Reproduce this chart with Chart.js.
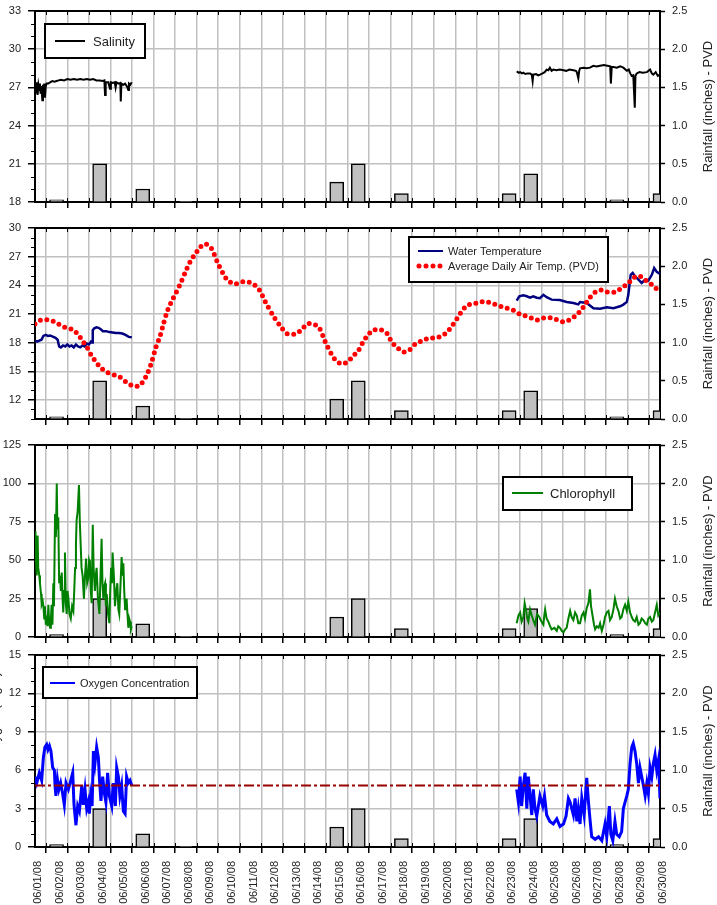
<!DOCTYPE html>
<html>
<head>
<meta charset="utf-8">
<script src="https://cdn.jsdelivr.net/npm/chart.js@4.4.0/dist/chart.umd.min.js"></script>
<style>
  html, body { margin: 0; padding: 0; background: #fff; }
  body { width: 717px; height: 905px; position: relative; overflow: hidden; }
  canvas { position: absolute; left: 0; }
</style>
</head>
<body>
<canvas id="salinityChart"></canvas>
<canvas id="tempChart"></canvas>
<canvas id="chlChart"></canvas>
<canvas id="oxyChart"></canvas>
<script>
// ---- data (x = days after 06/01/08 00:00) ----
const dateLabels = ['06/01/08','06/02/08','06/03/08','06/04/08','06/05/08','06/06/08','06/07/08','06/08/08','06/09/08','06/10/08',
  '06/11/08','06/12/08','06/13/08','06/14/08','06/15/08','06/16/08','06/17/08','06/18/08','06/19/08','06/20/08',
  '06/21/08','06/22/08','06/23/08','06/24/08','06/25/08','06/26/08','06/27/08','06/28/08','06/29/08','06/30/08'];

// daily rainfall at PVD (inches), one per date label
const rainfall = [0, 0.03, 0, 0.5, 0, 0.17, 0, 0.005, 0, 0, 0, 0, 0, 0, 0.26, 0.5, 0, 0.11, 0, 0,
  0, 0, 0.11, 0.37, 0, 0, 0, 0.03, 0, 0.11];
const rainTicks = [0, 0.5, 1, 1.5, 2, 2.5];

const salinityTicks = [18, 21, 24, 27, 30, 33];
const salinityEarly = [[0.00,26.7],[0.03,27.3],[0.06,26.6],[0.09,27.4],[0.12,26.4],[0.16,27.2],[0.20,26.8],[0.23,27.3],
  [0.26,26.5],[0.30,27.1],[0.34,26.0],[0.37,27.2],[0.40,26.9],[0.43,27.3],[0.46,26.2],[0.50,27.1],[0.54,27.3],[0.62,27.3],
  [0.70,27.4],[0.80,27.5],[0.90,27.45],[1.00,27.5],[1.10,27.55],[1.20,27.6],[1.35,27.55],[1.50,27.65],[1.65,27.6],
  [1.80,27.65],[1.95,27.6],[2.10,27.65],[2.25,27.6],[2.40,27.65],[2.55,27.6],[2.70,27.65],[2.85,27.55],[3.00,27.55],
  [3.15,27.5],[3.22,27.55],[3.25,26.4],[3.28,27.4],[3.40,27.4],[3.48,26.9],[3.52,27.4],[3.60,27.35],[3.70,27.4],
  [3.74,27.0],[3.78,27.4],[3.88,27.3],[3.96,27.35],[3.98,25.9],[4.01,27.3],[4.10,27.2],[4.18,27.3],[4.26,27.1],
  [4.33,26.8],[4.36,27.3],[4.42,27.2],[4.49,27.4]];
const salinityLate = [[22.35,28.25],[22.45,28.15],[22.51,28.2],[22.60,28.1],[22.66,28.15],[22.75,28.05],[22.85,28.1],
  [22.97,28.1],[23.05,28.0],[23.09,27.5],[23.12,28.0],[23.25,28.05],[23.35,27.95],[23.43,28.0],[23.55,28.1],[23.65,28.2],
  [23.74,28.4],[23.82,28.35],[23.89,28.55],[23.97,28.3],[24.05,28.4],[24.20,28.35],[24.35,28.4],[24.52,28.35],[24.65,28.3],
  [24.80,28.4],[24.98,28.35],[25.10,28.3],[25.14,28.2],[25.21,27.7],[25.25,28.3],[25.29,28.5],[25.45,28.55],[25.60,28.5],
  [25.75,28.55],[25.91,28.7],[26.05,28.65],[26.22,28.7],[26.40,28.75],[26.55,28.7],[26.69,28.65],[26.72,27.3],[26.76,28.6],
  [26.84,28.6],[27.00,28.55],[27.15,28.65],[27.30,28.55],[27.46,28.3],[27.55,28.4],[27.62,28.1],[27.69,27.9],[27.76,27.95],
  [27.83,25.4],[27.86,27.9],[27.92,28.1],[28.05,28.2],[28.20,28.15],[28.39,28.2],[28.54,28.4],[28.62,28.1],[28.69,28.0],
  [28.80,28.2],[28.90,27.9],[29.00,28.0]];

const tempTicks = [12, 15, 18, 21, 24, 27, 30];
const waterTempEarly = [[0.00,18.2],[0.10,18.1],[0.20,18.2],[0.30,18.3],[0.39,18.7],[0.50,18.8],[0.60,18.7],[0.70,18.75],
  [0.85,18.6],[0.95,18.5],[1.05,18.3],[1.12,17.6],[1.20,17.5],[1.30,17.7],[1.40,17.6],[1.50,17.8],[1.60,17.6],[1.70,17.7],
  [1.80,17.5],[1.90,17.8],[2.00,17.6],[2.10,17.5],[2.20,17.7],[2.30,17.6],[2.40,17.9],[2.50,17.8],[2.60,18.1],[2.65,18.0],
  [2.68,19.3],[2.75,19.5],[2.85,19.6],[2.95,19.55],[3.05,19.4],[3.15,19.2],[3.30,19.2],[3.45,19.1],[3.60,19.05],
  [3.75,19.0],[3.90,19.0],[4.05,18.95],[4.20,18.8],[4.35,18.6],[4.49,18.55]];
const waterTempLate = [[22.35,22.4],[22.47,22.85],[22.66,22.95],[22.82,22.85],[22.97,22.7],[23.12,22.85],[23.28,22.7],
  [23.43,22.65],[23.59,23.0],[23.74,22.75],[23.97,22.5],[24.35,22.45],[24.67,22.25],[24.98,22.15],[25.21,22.0],
  [25.29,22.25],[25.60,22.15],[25.91,21.6],[26.22,21.55],[26.53,21.7],[26.84,21.6],[27.15,21.8],[27.30,21.98],
  [27.46,22.26],[27.53,23.0],[27.64,25.1],[27.73,25.3],[27.84,24.95],[28.00,24.6],[28.15,24.25],[28.31,24.6],
  [28.46,24.5],[28.62,25.1],[28.73,25.8],[28.85,25.4],[29.00,25.2]];
const airTemp = [[0.00,19.95],[0.28,20.37],[0.59,20.37],[0.93,20.16],[1.24,19.75],[1.52,19.5],[1.78,19.33],[2.06,18.66],
  [2.24,18.07],[2.43,17.44],[2.63,16.6],[2.83,15.98],[3.06,15.35],[3.37,14.86],[3.63,14.65],[3.91,14.44],[4.22,13.89],
  [4.53,13.47],[4.84,13.47],[5.06,14.1],[5.21,14.72],[5.41,15.94],[5.60,17.44],[5.80,18.66],[5.96,19.95],[6.16,21.42],
  [6.42,22.68],[6.70,23.93],[6.98,25.4],[7.24,26.65],[7.44,27.28],[7.63,27.91],[7.89,28.33],[8.17,27.91],[8.46,26.44],
  [8.74,25.19],[8.93,24.56],[9.25,24.14],[9.57,24.35],[9.85,24.35],[10.13,24.14],[10.41,23.51],[10.69,22.26],
  [11.06,20.79],[11.45,19.54],[11.71,18.91],[12.08,18.91],[12.36,19.33],[12.64,19.95],[12.92,19.95],[13.19,19.54],
  [13.47,18.07],[13.75,16.82],[13.94,16.19],[14.22,15.77],[14.49,15.98],[14.77,16.6],[15.02,17.23],[15.24,18.14],
  [15.42,18.7],[15.67,19.26],[16.04,19.36],[16.35,18.91],[16.55,18.07],[16.83,17.44],[17.09,17.02],[17.37,17.23],
  [17.65,17.86],[18.02,18.25],[18.30,18.49],[18.58,18.49],[18.86,18.7],[19.13,19.12],[19.41,19.95],[19.60,20.58],
  [19.78,21.21],[20.06,21.91],[20.34,22.05],[20.68,22.26],[20.96,22.26],[21.27,22.05],[21.55,21.84],[21.83,21.63],
  [22.17,21.42],[22.48,21.0],[22.76,20.79],[23.03,20.58],[23.31,20.37],[23.59,20.58],[23.96,20.58],[24.24,20.37],
  [24.52,20.16],[24.80,20.37],[25.07,20.79],[25.35,21.42],[25.54,22.05],[25.73,22.68],[26.00,23.3],[26.28,23.51],
  [26.56,23.3],[26.93,23.3],[27.21,23.72],[27.49,24.14],[27.77,24.77],[28.04,24.98],[28.32,24.56],[28.69,23.93],
  [29.00,23.3]];

const chlTicks = [0, 25, 50, 75, 100, 125];
const chlorophyllEarly = [[0.00,55],[0.02,69],[0.05,48],[0.08,40],[0.12,66],[0.15,45],[0.20,40],[0.23,35],[0.28,28],
  [0.31,21],[0.36,23],[0.39,20],[0.43,12],[0.46,20],[0.50,8],[0.54,14],[0.58,7],[0.62,21],[0.66,9],[0.70,6],[0.74,12],
  [0.77,21],[0.81,8],[0.85,35],[0.88,20],[0.93,80],[0.97,65],[1.01,100],[1.04,70],[1.08,78],[1.12,35],[1.16,40],
  [1.20,30],[1.24,42],[1.28,25],[1.31,16],[1.35,30],[1.39,55],[1.43,22],[1.47,15],[1.51,30],[1.55,25],[1.60,15],
  [1.66,12],[1.72,20],[1.78,17],[1.82,30],[1.86,45],[1.90,60],[1.93,76],[1.98,82],[2.04,99],[2.08,75],[2.12,60],
  [2.16,45],[2.21,40],[2.27,25],[2.32,40],[2.37,51],[2.42,35],[2.47,38],[2.51,50],[2.55,48],[2.59,30],[2.63,22],
  [2.68,73],[2.72,45],[2.78,30],[2.82,40],[2.86,45],[2.92,25],[2.99,15],[3.04,40],[3.09,64],[3.13,35],[3.17,25],
  [3.21,33],[3.25,35],[3.29,20],[3.33,28],[3.39,15],[3.45,9],[3.49,30],[3.53,45],[3.57,35],[3.60,55],[3.66,40],
  [3.71,20],[3.77,30],[3.82,35],[3.87,18],[3.91,15],[3.97,35],[4.02,52],[4.06,40],[4.10,48],[4.14,30],[4.18,18],
  [4.22,22],[4.25,25],[4.29,15],[4.33,6],[4.37,12],[4.41,10],[4.45,5],[4.49,7]];
const chlorophyllLate = [[22.35,9],[22.43,14],[22.51,16],[22.58,10],[22.66,13],[22.72,22],[22.79,17],[22.84,12],
  [22.89,10],[22.97,18],[23.05,14],[23.12,11],[23.20,8],[23.30,15],[23.40,13],[23.50,10],[23.59,8],[23.63,14],
  [23.67,18],[23.74,12],[23.82,10],[23.90,7],[23.97,5],[24.10,6],[24.21,4],[24.28,7],[24.36,6],[24.44,4],[24.52,3],
  [24.60,5],[24.67,6],[24.75,12],[24.83,17],[24.90,13],[24.98,11],[25.06,16],[25.14,14],[25.21,9],[25.29,9],
  [25.37,14],[25.45,16],[25.52,12],[25.60,19],[25.68,22],[25.75,31],[25.80,20],[25.88,13],[25.94,8],[25.99,5],
  [26.07,7],[26.15,6],[26.22,9],[26.30,4],[26.38,8],[26.45,13],[26.53,16],[26.61,17],[26.68,11],[26.76,13],
  [26.84,18],[26.91,25],[26.99,20],[27.07,17],[27.15,12],[27.22,13],[27.30,18],[27.38,21],[27.46,17],[27.53,23],
  [27.61,16],[27.69,13],[27.76,11],[27.84,10],[27.92,13],[28.00,8],[28.07,9],[28.15,12],[28.23,11],[28.31,9],
  [28.39,8],[28.46,12],[28.54,13],[28.62,10],[28.69,11],[28.77,16],[28.85,21],[28.92,14],[29.00,16]];

const oxyTicks = [0, 3, 6, 9, 12, 15];
const oxygenThreshold = 4.8;
const oxygenEarly = [[0.00,5.5],[0.08,5.0],[0.20,5.8],[0.31,5.2],[0.39,7.0],[0.46,7.8],[0.54,8.0],[0.60,7.6],[0.67,7.9],
  [0.74,7.5],[0.82,6.2],[0.90,6.0],[0.93,4.8],[0.97,4.0],[1.04,5.3],[1.11,4.5],[1.19,5.0],[1.28,4.2],[1.36,3.3],
  [1.44,5.0],[1.55,4.5],[1.66,5.2],[1.75,5.8],[1.81,3.3],[1.90,1.7],[1.98,3.2],[2.06,2.8],[2.17,4.8],[2.24,3.3],
  [2.32,4.5],[2.40,3.0],[2.47,3.5],[2.52,2.6],[2.58,4.0],[2.65,3.2],[2.71,7.5],[2.78,6.5],[2.86,7.8],[2.94,7.0],
  [2.99,5.3],[3.06,3.6],[3.14,5.5],[3.22,4.2],[3.29,3.5],[3.37,5.8],[3.45,4.0],[3.56,3.2],[3.63,5.0],[3.73,3.2],
  [3.79,6.2],[3.87,5.5],[3.94,4.0],[4.02,4.8],[4.10,2.8],[4.18,2.6],[4.25,5.5],[4.33,5.0],[4.41,5.2],[4.49,4.8]];
const oxygenLate = [[22.35,4.5],[22.43,3.5],[22.51,5.5],[22.58,3.2],[22.66,4.8],[22.74,5.8],[22.82,3.0],[22.89,5.5],
  [22.97,4.0],[23.05,2.5],[23.12,4.5],[23.20,3.0],[23.28,2.4],[23.43,4.0],[23.56,3.2],[23.64,4.0],[23.74,2.5],
  [23.89,2.0],[24.05,1.8],[24.21,2.2],[24.36,1.6],[24.52,1.8],[24.64,2.4],[24.75,3.8],[24.83,3.5],[24.98,2.5],
  [25.06,3.8],[25.14,2.0],[25.21,3.0],[25.29,1.8],[25.37,3.8],[25.48,2.5],[25.60,5.4],[25.68,3.5],[25.75,2.2],
  [25.83,0.8],[25.99,0.6],[26.15,0.8],[26.30,0.5],[26.45,1.8],[26.53,0.8],[26.65,3.2],[26.72,1.0],[26.81,0.5],
  [26.91,2.0],[26.99,1.0],[27.11,0.8],[27.22,1.2],[27.30,3.0],[27.38,3.5],[27.46,4.0],[27.53,4.5],[27.61,6.5],
  [27.69,7.8],[27.76,8.1],[27.84,7.5],[27.92,6.5],[28.00,5.0],[28.07,6.2],[28.15,5.5],[28.23,4.8],[28.31,4.0],
  [28.39,5.0],[28.46,4.2],[28.54,6.2],[28.62,5.5],[28.69,6.5],[28.77,7.2],[28.85,6.0],[28.93,6.8],[29.00,3.8]];

// ---- styling / layout ----
const FONT = "'Liberation Sans', Arial, Helvetica, sans-serif";
const GRID = '#c0c0c0';
const TEXT = '#222';
const PAGE_W = 717;
const LEFT_W = 35;     // plot starts at x=35
const RIGHT_W = 57;    // plot ends at x=660
const TOP_PAD = 10;

Chart.defaults.font.family = FONT;
Chart.defaults.color = TEXT;

// top border, minor ticks and axis titles
const panelFrame = {
  id: 'panelFrame',
  afterDatasetsDraw(chart, args, o) {
    const { ctx, chartArea: a, scales } = chart;
    const xs = scales.x, ys = scales.y;
    ctx.save();
    ctx.strokeStyle = '#000';
    ctx.lineWidth = 1;
    ctx.beginPath();
    for (let d = xs.min + 0.5; d < xs.max; d += 1) {
      const px = Math.round(xs.getPixelForValue(d)) + 0.5;
      ctx.moveTo(px, a.top); ctx.lineTo(px, a.top + 4);
      ctx.moveTo(px, a.bottom); ctx.lineTo(px, a.bottom - 4);
    }
    if (o.minorStep) {
      for (let v = ys.min; v <= ys.max; v += o.minorStep) {
        if (o.majors.includes(v)) continue;
        const py = Math.round(ys.getPixelForValue(v)) + 0.5;
        ctx.moveTo(a.left - 4, py); ctx.lineTo(a.left, py);
      }
    }
    ctx.stroke();

    ctx.lineWidth = 2;
    ctx.beginPath();
    ctx.moveTo(a.left - 1, a.top); ctx.lineTo(a.right + 1, a.top);
    ctx.stroke();

    ctx.fillStyle = TEXT;
    ctx.font = '13px ' + FONT;
    ctx.textAlign = 'center';
    const cy = (a.top + a.bottom) / 2;
    ctx.save();
    ctx.translate(a.right + 48, cy);
    ctx.rotate(-Math.PI / 2);
    ctx.textBaseline = 'middle';
    ctx.fillText('Rainfall (inches) - PVD', 0, 0);
    ctx.restore();
    if (o.leftTitle) {
      // sits mostly outside the page on the left, as in the source image
      ctx.save();
      ctx.translate(-1, cy - 6);
      ctx.rotate(-Math.PI / 2);
      ctx.textBaseline = 'alphabetic';
      ctx.fillText(o.leftTitle, 0, 0);
      ctx.restore();
    }
    ctx.restore();
  }
};

// boxed legend inside the plot
const panelLegend = {
  id: 'panelLegend',
  afterDraw(chart, args, o) {
    if (!o.box) return;
    const { ctx, chartArea: a } = chart;
    const [bx, by, bw, bh] = o.box;
    ctx.save();
    ctx.fillStyle = '#fff';
    ctx.fillRect(a.left + bx, a.top + by, bw, bh);
    ctx.strokeStyle = '#000';
    ctx.lineWidth = 2;
    ctx.strokeRect(a.left + bx, a.top + by, bw, bh);
    ctx.font = o.font + ' ' + FONT;
    ctx.textAlign = 'left';
    ctx.textBaseline = 'middle';
    o.items.forEach(it => {
      const y = a.top + it.y;
      ctx.beginPath();
      ctx.strokeStyle = it.color;
      ctx.lineWidth = it.width;
      ctx.setLineDash(it.dash || []);
      ctx.lineCap = it.cap || 'butt';
      ctx.moveTo(a.left + it.x1, y);
      ctx.lineTo(a.left + it.x2, y);
      ctx.stroke();
      ctx.setLineDash([]);
      ctx.fillStyle = TEXT;
      ctx.fillText(it.text, a.left + it.tx, y + 1);
    });
    ctx.restore();
  }
};

function rainBars() {
  return {
    type: 'bar', yAxisID: 'y2', order: 3,
    data: rainfall.map((v, i) => ({ x: i, y: v })),
    backgroundColor: '#c0c0c0', borderColor: '#000', borderWidth: 1.5,
    barThickness: 14, grouped: false
  };
}

function series(arr, color, width, extra) {
  return Object.assign({
    type: 'line', yAxisID: 'y', order: 2,
    data: arr.map(([x, y]) => ({ x, y })),
    borderColor: color, borderWidth: width, pointRadius: 0, tension: 0, fill: false
  }, extra || {});
}

function buildPanel(id, cfg) {
  const canvas = document.getElementById(id);
  canvas.width = PAGE_W;
  canvas.height = TOP_PAD + cfg.plotH + cfg.bottomH;
  canvas.style.top = (cfg.plotTop - TOP_PAD) + 'px';
  return new Chart(canvas, {
    type: 'line',
    data: { datasets: [rainBars()].concat(cfg.datasets) },
    plugins: [panelFrame, panelLegend],
    options: {
      responsive: false,
      animation: false,
      events: [],
      layout: { padding: { top: TOP_PAD, left: 0, right: 0, bottom: 0 } },
      plugins: {
        legend: { display: false },
        tooltip: { enabled: false },
        panelFrame: { minorStep: cfg.minorStep, majors: cfg.yTicks, leftTitle: cfg.leftTitle },
        panelLegend: cfg.legend
      },
      scales: {
        x: {
          type: 'linear', min: 0, max: dateLabels.length - 1, offset: false,
          afterBuildTicks: s => { s.ticks = dateLabels.map((_, i) => ({ value: i })); },
          ticks: {
            display: !!cfg.showDates, autoSkip: false, minRotation: 90, maxRotation: 90,
            padding: 8, labelOffset: 3, font: { size: 11 }, color: TEXT,
            callback: v => dateLabels[Math.round(v)]
          },
          grid: { color: GRID, lineWidth: 1.5, tickColor: '#000', tickLength: 6, tickWidth: 1.5 },
          border: { color: '#000', width: 2 },
          afterFit: s => { s.height = cfg.bottomH; s.paddingLeft = 0; s.paddingRight = 0; }
        },
        y: {
          position: 'left', min: cfg.yMin, max: cfg.yMax,
          afterBuildTicks: s => { s.ticks = cfg.yTicks.map(v => ({ value: v })); },
          ticks: { padding: 7, font: { size: 11 }, color: TEXT, callback: v => String(v) },
          grid: { color: GRID, lineWidth: 1.5, tickColor: '#000', tickLength: 7, tickWidth: 1.5 },
          border: { color: '#000', width: 2 },
          afterFit: s => { s.width = LEFT_W; s.paddingTop = 0; s.paddingBottom = 0; }
        },
        y2: {
          position: 'right', min: 0, max: 2.5,
          afterBuildTicks: s => { s.ticks = rainTicks.map(v => ({ value: v })); },
          ticks: { padding: 7, font: { size: 11 }, color: TEXT, callback: v => v.toFixed(1) },
          grid: { drawOnChartArea: false, tickColor: '#000', tickLength: 5, tickWidth: 1.5 },
          border: { color: '#000', width: 2 },
          afterFit: s => { s.width = RIGHT_W; s.paddingTop = 0; s.paddingBottom = 0; }
        }
      }
    }
  });
}

buildPanel('salinityChart', {
  plotTop: 11, plotH: 191, bottomH: 8,
  yMin: 18, yMax: 33, yTicks: salinityTicks, minorStep: 1,
  datasets: [
    series(salinityEarly, '#000', 2),
    series(salinityLate, '#000', 2)
  ],
  legend: {
    box: [10, 13, 100, 34], font: '13px',
    items: [{ x1: 20, x2: 50, y: 30, color: '#000', width: 2, text: 'Salinity', tx: 58 }]
  }
});

buildPanel('tempChart', {
  plotTop: 228, plotH: 191, bottomH: 8,
  yMin: 10, yMax: 30, yTicks: tempTicks, minorStep: 1,
  datasets: [
    series(waterTempEarly, '#000080', 2.5),
    series(waterTempLate, '#000080', 2.5),
    series(airTemp, '#ff0000', 5, { borderDash: [0, 6.5], borderCapStyle: 'round', tension: 0.3, order: 1 })
  ],
  legend: {
    box: [374, 9, 199, 45], font: '11px',
    items: [
      { x1: 383, x2: 408, y: 23, color: '#000080', width: 2, text: 'Water Temperature', tx: 413 },
      { x1: 384, x2: 406, y: 38, color: '#ff0000', width: 5, dash: [0, 7], cap: 'round', text: 'Average Daily Air Temp. (PVD)', tx: 413 }
    ]
  }
});

buildPanel('chlChart', {
  plotTop: 445, plotH: 192, bottomH: 8,
  yMin: 0, yMax: 125, yTicks: chlTicks, minorStep: null,
  datasets: [
    series(chlorophyllEarly, '#008000', 2),
    series(chlorophyllLate, '#008000', 2)
  ],
  legend: {
    box: [468, 32, 129, 33], font: '13px',
    items: [{ x1: 477, x2: 508, y: 48, color: '#008000', width: 2, text: 'Chlorophyll', tx: 515 }]
  }
});

buildPanel('oxyChart', {
  plotTop: 655, plotH: 192, bottomH: 58,
  yMin: 0, yMax: 15, yTicks: oxyTicks, minorStep: 1, showDates: true,
  leftTitle: 'Dissolved Oxygen (mg/L)',
  datasets: [
    series(oxygenEarly, '#0000ff', 3),
    series(oxygenLate, '#0000ff', 3),
    series([[0, oxygenThreshold], [dateLabels.length - 1, oxygenThreshold]], '#990000', 2,
      { borderDash: [10, 3, 3, 3], order: 1 })
  ],
  legend: {
    box: [8, 12, 154, 31], font: '11px',
    items: [{ x1: 15, x2: 40, y: 28, color: '#0000ff', width: 2, text: 'Oxygen Concentration', tx: 45 }]
  }
});
</script>
</body>
</html>
